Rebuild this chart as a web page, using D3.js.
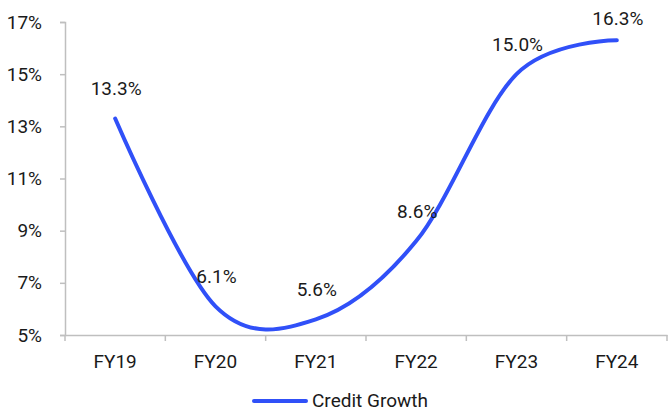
<!DOCTYPE html>
<html><head><meta charset="utf-8">
<script src="https://cdn.jsdelivr.net/npm/d3@7"></script>
<style>body{margin:0;background:#fff}svg{display:block}text{font-family:Roboto,"Liberation Sans",sans-serif;fill:#1a1a1a}</style>
</head><body><svg id="c" width="669" height="412"></svg>
<script>
const categories = ["FY19","FY20","FY21","FY22","FY23","FY24"];
const creditGrowth = [13.3, 6.1, 5.6, 8.6, 15.0, 16.3];
const yTicks = [5,7,9,11,13,15,17];
const seriesName = "Credit Growth";

const svg = d3.select("#c");
const mLeft = 65, mRight = 667, mTop = 22, mBottom = 335;
const fs = 19;
const x = d3.scaleBand().domain(categories).range([mLeft, mRight]).padding(0);
const y = d3.scaleLinear().domain([5,17]).range([mBottom, mTop]);
const gray = "#bfbfbf", blue = "#3050f8";

// y axis
const ya = svg.append("g").attr("transform", `translate(${mLeft},0)`)
  .call(d3.axisLeft(y).tickValues(yTicks).tickSize(5).tickPadding(18).tickFormat(d => d + "%"));
ya.select(".domain").attr("stroke", gray).attr("stroke-width", 1.5);
ya.selectAll(".tick line").attr("stroke", gray).attr("stroke-width", 1.5);
ya.selectAll("text").attr("font-size", fs).attr("fill", "#1a1a1a").attr("font-family", "Roboto");

// x axis
const xa = svg.append("g").attr("transform", `translate(0,${mBottom})`)
  .call(d3.axisBottom(x).tickSize(0).tickPadding(20));
xa.select(".domain").attr("stroke", gray).attr("stroke-width", 1.5);
xa.selectAll("text").attr("font-size", fs).attr("fill", "#1a1a1a").attr("font-family", "Roboto").attr("dy", "0.71em");
const bounds = categories.map(c => x(c)).concat([mRight]);
svg.append("g").selectAll("line").data(bounds).join("line")
  .attr("x1", d => d).attr("x2", d => d).attr("y1", mBottom).attr("y2", mBottom + 6)
  .attr("stroke", gray).attr("stroke-width", 1.5);

// line
const pts = categories.map((c, i) => [x(c) + x.bandwidth()/2, y(creditGrowth[i])]);
svg.append("path").attr("d", d3.line().curve(d3.curveCatmullRom.alpha(0))(pts))
  .attr("fill", "none").attr("stroke", blue).attr("stroke-width", 4).attr("stroke-linecap", "round");

// labels
svg.append("g").selectAll("text").data(pts).join("text")
  .attr("x", (d, i) => d[0] + 1)
  .attr("y", (d, i) => i === 5 ? 18 : d[1] - 30)
  .attr("dy", "0.35em")
  .attr("text-anchor", "middle").attr("font-size", fs)
  .text((d, i) => creditGrowth[i].toFixed(1) + "%");

// legend
svg.append("line").attr("x1", 254).attr("x2", 306).attr("y1", 401).attr("y2", 401)
  .attr("stroke", blue).attr("stroke-width", 4).attr("stroke-linecap", "round");
svg.append("text").attr("x", 312).attr("y", 400).attr("dy", "0.35em").attr("font-size", fs).text(seriesName);
</script></body></html>
